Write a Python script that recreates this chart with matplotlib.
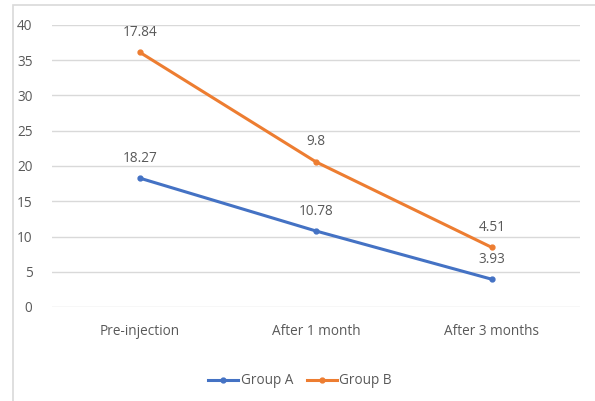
import numpy as np
import matplotlib.pyplot as plt
from matplotlib.patches import Rectangle

plt.rcParams['font.family'] = ['Open Sans', 'DejaVu Sans']

categories = ['Pre-injection', 'After 1 month', 'After 3 months']
group_a = [18.27, 10.78, 3.93]
group_b = [17.84, 9.8, 4.51]
yticks = [0, 5, 10, 15, 20, 25, 30, 35, 40]

blue = '#4472C4'
orange = '#ED7D31'
text_gray = '#595959'

# stacked line chart: Group B sits on top of Group A
a = np.array(group_a)
b_top = a + np.array(group_b)
x = np.arange(len(categories))

fig = plt.figure(figsize=(5.95, 4.01), dpi=100)
# outer chart border (right edge runs off the canvas)
fig.patches.append(Rectangle((13 / 595, -0.01), 1.05, 396 / 401 + 0.01,
                             transform=fig.transFigure, fill=False,
                             edgecolor='#D9D9D9', linewidth=1.2))
ax = fig.add_axes([52 / 595, 1 - 307 / 401, 528 / 595, 282 / 401])

ax.plot(x, a, color=blue, lw=2.2, marker='o', ms=3.5, label='Group A', zorder=3)
ax.plot(x, b_top, color=orange, lw=2.2, marker='o', ms=3.5, label='Group B', zorder=3)

for xi, yi, v in zip(x, a, group_a):
    ax.annotate(f'{v:g}', (xi, yi), xytext=(0, 9), textcoords='offset points',
                ha='center', va='bottom', fontsize=9.8, color=text_gray)
for xi, yi, v in zip(x, b_top, group_b):
    ax.annotate(f'{v:g}', (xi, yi), xytext=(0, 9), textcoords='offset points',
                ha='center', va='bottom', fontsize=9.8, color=text_gray)

ax.set_xlim(-0.5, len(categories) - 0.5)
ax.set_ylim(0, 40)
ax.set_yticks(yticks)
ax.set_xticks(x)
ax.set_xticklabels(categories)
ax.tick_params(length=0, labelsize=9.8, labelcolor=text_gray)
ax.tick_params(axis='x', pad=12)
ax.tick_params(axis='y', pad=14)
ax.grid(axis='y', color='#D9D9D9', lw=1)
ax.set_axisbelow(True)
for s in ax.spines.values():
    s.set_visible(False)

fig.legend(loc='center', bbox_to_anchor=(300 / 595, 1 - 381 / 401), ncol=2,
           frameon=False, fontsize=9.8, handlelength=2.2, handletextpad=0.2,
           columnspacing=1.0, labelcolor=text_gray)

fig.savefig('out.png', dpi=100)
